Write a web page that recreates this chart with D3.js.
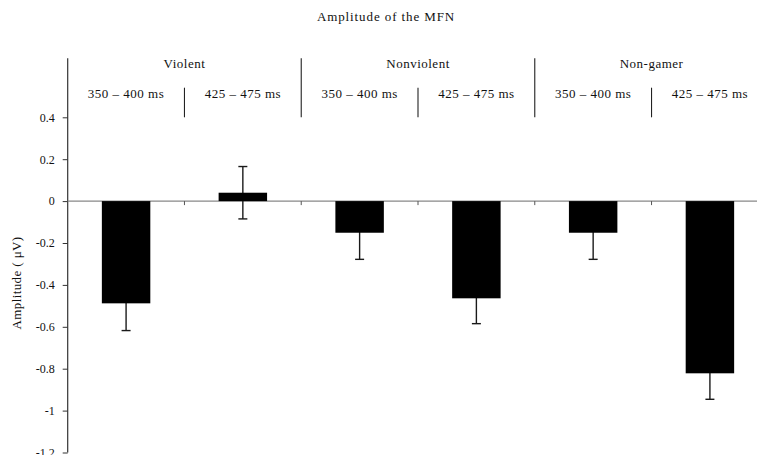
<!DOCTYPE html>
<html>
<head>
<meta charset="utf-8">
<script src="https://cdn.jsdelivr.net/npm/d3@7"></script>
<style>
  html, body { margin: 0; padding: 0; background: #fff; }
  svg { display: block; }
  text { font-family: "Liberation Serif", "Times New Roman", serif; fill: #111; }
</style>
</head>
<body>
<svg id="chart" width="757" height="455"></svg>
<script>
// ---- data ----
const groups = ["Violent", "Nonviolent", "Non-gamer"];
const windows = ["350 \u2013 400 ms", "425 \u2013 475 ms"];
const categories = ["V-350", "V-425", "NV-350", "NV-425", "NG-350", "NG-425"];
const categoryGroup = [0, 0, 1, 1, 2, 2];
const categoryWindow = [0, 1, 0, 1, 0, 1];
const amplitude = [-0.488, 0.040, -0.151, -0.464, -0.151, -0.822];
const errorSE = [0.130, 0.125, 0.127, 0.121, 0.127, 0.124];
const yTicks = [0.4, 0.2, 0, -0.2, -0.4, -0.6, -0.8, -1, -1.2];
const titleText = "Amplitude of the MFN";
const yLabel = "Amplitude ( \u03bcV)";

// ---- layout ----
const svg = d3.select("#chart");
const plotLeft = 67.7, plotRight = 768.3, plotTop = 117.3, plotBottom = 452.5, axisTop = 58.3;

const x = d3.scaleBand().domain(categories).range([plotLeft, plotRight]).padding(0);
const y = d3.scaleLinear().domain([-1.2, 0.4]).range([plotBottom, plotTop]);
const barW = x.bandwidth() * 0.415;

// title
svg.append("text").attr("x", 386).attr("y", 21).attr("text-anchor", "middle")
  .style("font-size", "13px").style("letter-spacing", "0.9px").text(titleText);

// y axis
const yAxis = d3.axisLeft(y).tickValues(yTicks).tickSize(5).tickPadding(8)
  .tickFormat(d => d === 0 ? "0" : String(d));
const gy = svg.append("g").attr("transform", `translate(${plotLeft},0)`).call(yAxis);
gy.select(".domain").remove();
gy.selectAll(".tick line").attr("stroke", "#333");
gy.selectAll(".tick text").style("font-family", '"Liberation Serif", serif')
  .style("font-size", "12px").attr("fill", "#111");
svg.append("line").attr("x1", plotLeft).attr("x2", plotLeft).attr("y1", axisTop).attr("y2", plotBottom)
  .attr("stroke", "#333").attr("stroke-width", 1.2);

// y label
svg.append("text").attr("transform", "translate(21,283) rotate(-90)")
  .attr("text-anchor", "middle").style("font-size", "13px").style("letter-spacing", "0.4px").text(yLabel);

// zero line
svg.append("line").attr("x1", plotLeft).attr("x2", 757).attr("y1", y(0)).attr("y2", y(0))
  .attr("stroke", "#888").attr("stroke-width", 1.2);

// x ticks at band boundaries on zero line
const boundaries = categories.slice(1).map(c => x(c));
svg.selectAll(".xtick").data(boundaries).enter().append("line")
  .attr("x1", d => d).attr("x2", d => d).attr("y1", y(0)).attr("y2", y(0) + 4)
  .attr("stroke", "#555").attr("stroke-width", 1);

// header separators
categories.forEach((c, i) => {
  if (i === 0) return;
  const bx = x(c);
  const isGroup = categoryGroup[i] !== categoryGroup[i - 1];
  svg.append("line").attr("x1", bx).attr("x2", bx)
    .attr("y1", isGroup ? axisTop : 87.7).attr("y2", plotTop)
    .attr("stroke", "#222").attr("stroke-width", 1.1);
});

// group labels
groups.forEach((g, gi) => {
  const idx = categories.filter((c, i) => categoryGroup[i] === gi);
  const cx = (x(idx[0]) + x(idx[idx.length - 1]) + x.bandwidth()) / 2;
  svg.append("text").attr("x", cx).attr("y", 68).attr("text-anchor", "middle")
    .style("font-size", "13px").style("letter-spacing", "0.5px").text(g);
});

// window labels
categories.forEach((c, i) => {
  svg.append("text").attr("x", x(c) + x.bandwidth() / 2).attr("y", 98)
    .attr("text-anchor", "middle").style("font-size", "13px").style("letter-spacing", "0.5px")
    .text(windows[categoryWindow[i]]);
});

// error bars (drawn first so the bars hide the part inside them)
categories.forEach((c, i) => {
  const cx = x(c) + x.bandwidth() / 2;
  const lo = amplitude[i] - errorSE[i], hi = amplitude[i] + errorSE[i];
  const g = svg.append("g").attr("stroke", "#1a1a1a").attr("stroke-width", 1.4);
  g.append("line").attr("x1", cx).attr("x2", cx).attr("y1", y(hi)).attr("y2", y(lo));
  g.append("line").attr("x1", cx - 4.5).attr("x2", cx + 4.5).attr("y1", y(lo)).attr("y2", y(lo));
  g.append("line").attr("x1", cx - 4.5).attr("x2", cx + 4.5).attr("y1", y(hi)).attr("y2", y(hi));
});

// bars
svg.selectAll(".bar").data(categories).enter().append("rect")
  .attr("x", c => x(c) + (x.bandwidth() - barW) / 2)
  .attr("width", barW)
  .attr("y", (c, i) => y(Math.max(0, amplitude[i])))
  .attr("height", (c, i) => Math.abs(y(amplitude[i]) - y(0)))
  .attr("fill", "#000");
</script>
</body>
</html>
